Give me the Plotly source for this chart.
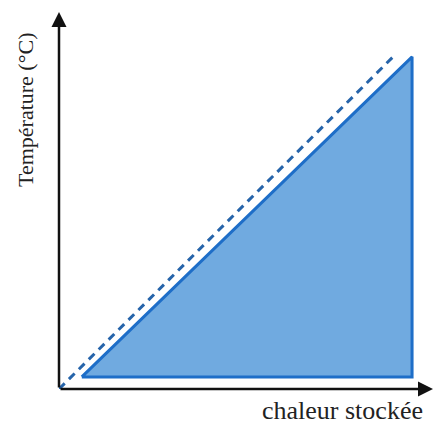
import plotly.graph_objects as go

# Data (arbitrary units)
tri_heat = [6.1, 94.4, 94.4, 6.1]
tri_temp = [3.2, 88.1, 3.2, 3.2]
ideal_heat = [0, 89.3]
ideal_temp = [0, 88.1]
x_label = "chaleur stockée"
y_label = "Température (°C)"

fig = go.Figure()
fig.add_trace(go.Scatter(
    x=tri_heat, y=tri_temp, mode="lines", fill="toself",
    fillcolor="rgb(112,170,224)",
    line=dict(color="rgb(30,110,200)", width=3),
    hoverinfo="skip", showlegend=False,
))
fig.add_trace(go.Scatter(
    x=ideal_heat, y=ideal_temp, mode="lines",
    line=dict(color="rgb(38,100,170)", width=3, dash="8px,6px"),
    hoverinfo="skip", showlegend=False,
))

# Axis arrows
for (hx, hy) in [(100, 0), (0, 100)]:
    fig.add_annotation(
        x=hx, y=hy, ax=0, ay=0, xref="x", yref="y", axref="x", ayref="y",
        text="", showarrow=True, arrowhead=2, arrowsize=1.2,
        arrowwidth=2.5, arrowcolor="#111111", standoff=0,
    )

fig.add_annotation(
    x=-0.091, y=0.74, xref="paper", yref="paper", text=y_label,
    textangle=-90, showarrow=False, xanchor="center", yanchor="middle",
    font=dict(family="Liberation Serif", size=22, color="#222222"),
)
fig.add_annotation(
    x=0.757, y=-0.058, xref="paper", yref="paper", text=x_label,
    showarrow=False, xanchor="center", yanchor="middle",
    font=dict(family="Liberation Serif", size=26, color="#222222"),
)

fig.update_layout(
    width=436, height=427,
    margin=dict(l=59, r=3, t=12, b=38),
    paper_bgcolor="white", plot_bgcolor="white",
    xaxis=dict(range=[0, 100], visible=False, fixedrange=True),
    yaxis=dict(range=[0, 100], visible=False, fixedrange=True),
)
fig.write_html(
    "out.html",
    config={"displayModeBar": False, "staticPlot": True},
    post_script="document.body.style.margin='0';document.body.style.overflow='hidden';",
)
